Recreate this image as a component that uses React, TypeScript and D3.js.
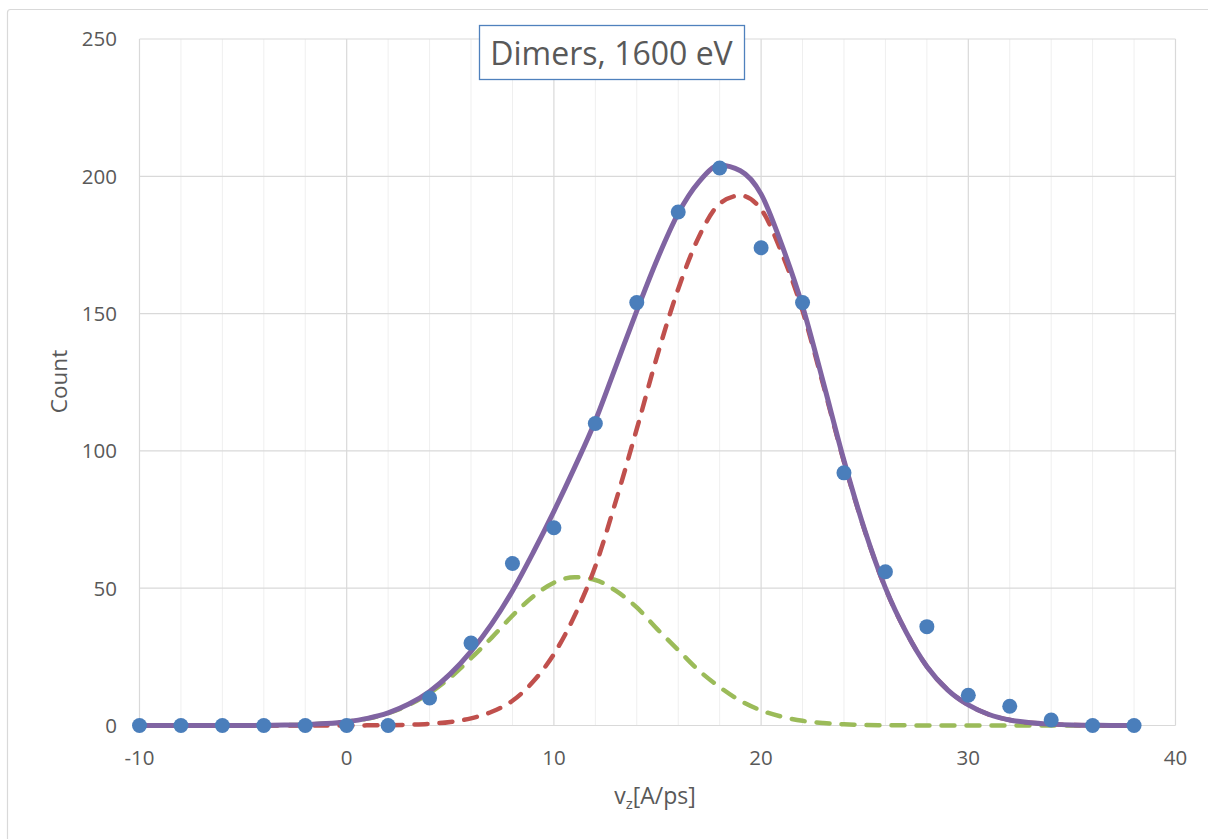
import { useEffect, useRef } from "react";
import * as d3 from "d3";

// measured points (histogram of v_z)
const pointV = [-10, -8, -6, -4, -2, 0, 2, 4, 6, 8, 10, 12, 14, 16, 18, 20, 22, 24, 26, 28, 30, 32, 34, 36, 38];
const pointCount = [0, 0, 0, 0, 0, 0, 0, 10, 30, 59, 72, 110, 154, 187, 203, 174, 154, 92, 56, 36, 11, 7, 2, 0, 0];

// fitted curves, every 1 A/ps
const fitV = [
  -10, -9, -8, -7, -6, -5, -4, -3, -2, -1, 0, 1, 2, 3, 4, 5, 6, 7, 8, 9, 10, 11, 12, 13, 14,
  15, 16, 17, 18, 19, 20, 21, 22, 23, 24, 25, 26, 27, 28, 29, 30, 31, 32, 33, 34, 35, 36, 37, 38,
];
const fastFit = [
  0, 0, 0, 0, 0, 0, 0, 0, 0, 0, 0, 0.05, 0.1, 0.3, 0.6, 1.3, 2.6, 5, 9, 16, 26, 40, 58, 82, 108,
  135, 159, 178, 190, 193, 188, 172, 151, 124, 96, 71, 50, 34, 21.5, 13, 7.5, 4, 2, 1, 0.5, 0.2, 0.1, 0, 0,
];
const slowFit = [
  0, 0, 0, 0, 0, 0.02, 0.06, 0.15, 0.3, 0.7, 1.4, 2.5, 4.5, 7.5, 11.8, 17.5, 24.5, 32, 40, 47, 52, 54, 53, 49, 43,
  35, 27.5, 20, 14, 9, 5.5, 3.2, 1.7, 0.9, 0.45, 0.2, 0.1, 0.05, 0, 0, 0, 0, 0, 0, 0, 0, 0, 0, 0,
];
const totalFit = [
  0, 0, 0, 0, 0, 0.02, 0.06, 0.15, 0.3, 0.7, 1.4, 2.6, 4.6, 7.8, 12.4, 18.8, 27, 37, 49, 63, 78, 94, 111, 131, 151,
  170, 186.5, 198, 204, 202, 193.5, 175, 152.7, 125, 96.5, 71.2, 50.1, 34, 21.5, 13, 7.5, 4, 2, 1, 0.5, 0.2, 0.1, 0, 0,
];

const xTicks = [-10, 0, 10, 20, 30, 40];
const xMinorTicks = [-8, -6, -4, -2, 2, 4, 6, 8, 12, 14, 16, 18, 22, 24, 26, 28, 32, 34, 36, 38];
const yTicks = [0, 50, 100, 150, 200, 250];

const FONT = "'Open Sans', 'Liberation Sans', sans-serif";
const TEXT = "#595959";

export default function App() {
  const svgRef = useRef<SVGSVGElement | null>(null);

  useEffect(() => {
    if (!svgRef.current) return;
    const width = 1208;
    const height = 839;
    const left = 139.5, right = 1175.5, top = 39, bottom = 725.5;

    const svg = d3.select(svgRef.current);
    svg.selectAll("*").remove();
    svg.attr("width", width).attr("height", height);

    svg.append("rect")
      .attr("x", 0).attr("y", 0).attr("width", width).attr("height", height)
      .attr("fill", "#fff");

    // chart area frame
    svg.append("rect")
      .attr("x", 7.5).attr("y", 9.5).attr("width", 1220).attr("height", 850)
      .attr("rx", 3)
      .attr("fill", "none").attr("stroke", "#d9d9d9").attr("stroke-width", 1.2);

    const x = d3.scaleLinear().domain([-10, 40]).range([left, right]);
    const y = d3.scaleLinear().domain([0, 250]).range([bottom, top]);

    const grid = svg.append("g");
    grid.selectAll("line.minor")
      .data(xMinorTicks)
      .enter()
      .append("line")
      .attr("x1", d => x(d)).attr("x2", d => x(d))
      .attr("y1", top).attr("y2", bottom)
      .attr("stroke", "#efefef").attr("stroke-width", 1);
    grid.selectAll("line.vmajor")
      .data(xTicks)
      .enter()
      .append("line")
      .attr("x1", d => x(d)).attr("x2", d => x(d))
      .attr("y1", top).attr("y2", bottom)
      .attr("stroke", "#d9d9d9").attr("stroke-width", 1.2);
    grid.selectAll("line.hmajor")
      .data(yTicks)
      .enter()
      .append("line")
      .attr("x1", left).attr("x2", right)
      .attr("y1", d => y(d)).attr("y2", d => y(d))
      .attr("stroke", "#d9d9d9").attr("stroke-width", 1.2);

    // tick labels
    svg.selectAll("text.ytick")
      .data(yTicks)
      .enter()
      .append("text")
      .attr("x", 117)
      .attr("y", d => y(d))
      .attr("dy", "0.36em")
      .attr("text-anchor", "end")
      .attr("font-family", FONT).attr("font-size", 20.5).attr("fill", TEXT)
      .text(d => d);

    svg.selectAll("text.xtick")
      .data(xTicks)
      .enter()
      .append("text")
      .attr("x", d => x(d))
      .attr("y", 764.5)
      .attr("text-anchor", "middle")
      .attr("font-family", FONT).attr("font-size", 20.5).attr("fill", TEXT)
      .text(d => d);

    // axis titles
    svg.append("text")
      .attr("transform", "translate(66.5,381.5) rotate(-90)")
      .attr("text-anchor", "middle")
      .attr("font-family", FONT).attr("font-size", 22.5).attr("fill", TEXT)
      .text("Count");

    const xt = svg.append("text")
      .attr("x", 655).attr("y", 804)
      .attr("text-anchor", "middle")
      .attr("font-family", FONT).attr("font-size", 23).attr("fill", TEXT);
    xt.append("tspan").text("v");
    xt.append("tspan").attr("font-size", 15).attr("dy", 5).text("z");
    xt.append("tspan").attr("dy", -5).text("[A/ps]");

    // fitted curves
    const line = d3.line<number>()
      .x((_, i) => x(fitV[i]))
      .y(d => y(d))
      .curve(d3.curveMonotoneX);

    svg.append("path")
      .attr("d", line(slowFit))
      .attr("fill", "none").attr("stroke", "#9bbb59").attr("stroke-width", 4.5)
      .attr("stroke-dasharray", "13,12").attr("stroke-linecap", "round");

    svg.append("path")
      .attr("d", line(fastFit))
      .attr("fill", "none").attr("stroke", "#c0504d").attr("stroke-width", 4.5)
      .attr("stroke-dasharray", "13,12").attr("stroke-linecap", "round");

    svg.append("path")
      .attr("d", line(totalFit))
      .attr("fill", "none").attr("stroke", "#8064a2").attr("stroke-width", 5)
      .attr("stroke-linejoin", "round");

    // data points
    svg.selectAll("circle.pt")
      .data(pointCount)
      .enter()
      .append("circle")
      .attr("cx", (_, i) => x(pointV[i]))
      .attr("cy", d => y(d))
      .attr("r", 7.5)
      .attr("fill", "#4a7ebb");

    // title box
    svg.append("rect")
      .attr("x", 479.5).attr("y", 25.5).attr("width", 265).attr("height", 54)
      .attr("fill", "#fff").attr("stroke", "#4f81bd").attr("stroke-width", 1.3);
    svg.append("text")
      .attr("x", 611.5).attr("y", 64.5)
      .attr("text-anchor", "middle")
      .attr("font-family", FONT).attr("font-size", 32).attr("fill", TEXT)
      .text("Dimers, 1600 eV");
  }, []);

  return <svg ref={svgRef} style={{ position: "absolute", left: 0, top: 0 }} />;
}
